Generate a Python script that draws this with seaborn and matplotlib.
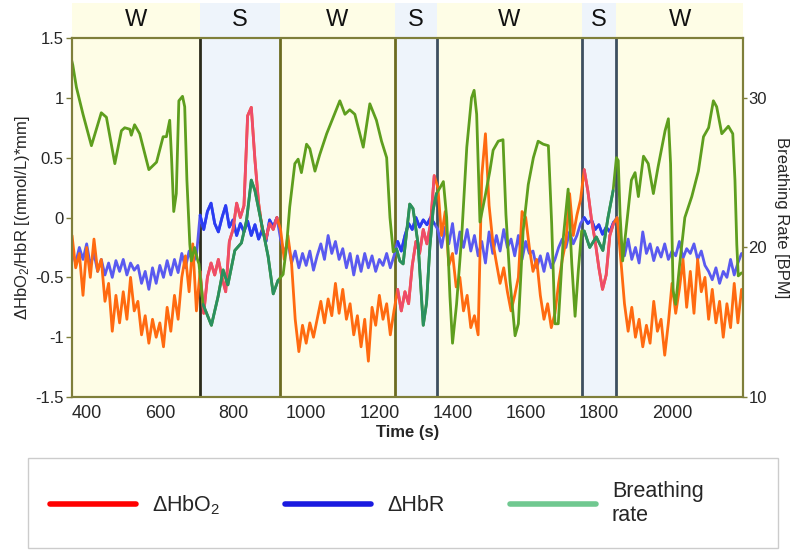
import numpy as np
import pandas as pd
import matplotlib.pyplot as plt
from matplotlib.lines import Line2D
from matplotlib.patches import Rectangle
import seaborn as sns

# wake / sleep stages (s)
stage_edges = [360, 709, 928, 1242, 1357, 1754, 1847, 2194]
stage_names = ["W", "S", "W", "S", "W", "S", "W"]

# haemoglobin signals, one value every 10 s from 360 s
hb_time = np.arange(360, 2191, 10)
hbo2 = [
    -0.15, -0.42, -0.30, -0.65, -0.25, -0.50, -0.18, -0.45, -0.35, -0.70,
    -0.55, -0.95, -0.65, -0.88, -0.62, -0.85, -0.50, -0.78, -0.70, -0.98,
    -0.82, -1.05, -0.85, -1.00, -0.88, -1.08, -0.75, -0.95, -0.65, -0.85,
    -0.50, -0.32, -0.62, -0.22, -0.78, -0.45, -0.80, -0.50, -0.38, -0.48,
    -0.35, -0.50, -0.62, -0.20, -0.10, 0.12, 0.00, 0.10, 0.85, 0.92,
    0.48, 0.12, -0.10, -0.18, -0.05, -0.10, 0.00, -0.10, -0.35, -0.15,
    -0.38, -0.85, -1.12, -0.90, -1.05, -0.88, -1.00, -0.85, -0.70, -0.88,
    -0.68, -0.82, -0.55, -0.80, -0.60, -0.85, -0.72, -0.98, -0.82, -1.08,
    -0.85, -1.20, -0.75, -0.90, -0.65, -0.85, -0.72, -0.98, -0.78, -0.60,
    -0.78, -0.62, -0.72, -0.40, -0.20, -0.30, -0.10, -0.22, -0.05, 0.35,
    0.25, -0.15, 0.05, -0.40, -0.30, -0.58, -0.50, -0.78, -0.65, -0.92,
    -0.82, -0.98, 0.35, 0.70, 0.10, -0.20, -0.38, -0.55, -0.42, -0.62,
    -0.78, -0.65, -0.50, 0.05, 0.00, -0.25, -0.45, -0.35, -0.65, -0.85,
    -0.72, -0.92, -0.80, -0.55, -0.35, -0.20, 0.20, -0.15, 0.02, 0.15,
    0.40, 0.22, -0.02, -0.20, -0.42, -0.60, -0.48, -0.15, -0.05, 0.00,
    -0.35, -0.72, -0.95, -0.75, -1.00, -0.85, -1.08, -0.90, -1.05, -0.70,
    -0.95, -0.85, -1.15, -0.88, -0.55, -0.80, -0.60, -0.35, -0.75, -0.45,
    -0.80, -0.35, -0.62, -0.50, -0.85, -0.60, -0.88, -0.70, -1.00, -0.72,
    -0.92, -0.55, -0.88, -0.60,
]
hbr = [
    -0.28, -0.38, -0.25, -0.35, -0.22, -0.40, -0.30, -0.45, -0.35, -0.48,
    -0.38, -0.50, -0.36, -0.45, -0.35, -0.48, -0.38, -0.44, -0.40, -0.55,
    -0.45, -0.60, -0.42, -0.55, -0.40, -0.50, -0.36, -0.48, -0.35, -0.46,
    -0.30, -0.42, -0.28, -0.38, -0.32, 0.02, -0.10, 0.05, 0.12, -0.05,
    -0.12, 0.00, 0.10, -0.08, -0.02, -0.15, -0.05, -0.12, -0.03, -0.15,
    -0.06, -0.18, -0.10, -0.20, -0.02, -0.08, 0.00, -0.18, -0.30, -0.20,
    -0.38, -0.28, -0.42, -0.30, -0.40, -0.28, -0.44, -0.32, -0.22, -0.35,
    -0.15, -0.30, -0.20, -0.35, -0.26, -0.42, -0.30, -0.48, -0.32, -0.45,
    -0.30, -0.42, -0.32, -0.45, -0.35, -0.40, -0.30, -0.42, -0.32, -0.20,
    -0.28, -0.15, -0.05, -0.10, 0.00, -0.08, -0.02, -0.06, 0.00, -0.05,
    -0.10, -0.25, -0.08, -0.22, -0.05, -0.30, -0.12, -0.25, -0.10, -0.28,
    -0.15, -0.32, -0.20, -0.38, -0.12, -0.30, -0.15, -0.28, -0.10, -0.25,
    -0.18, -0.32, -0.15, -0.35, -0.20, -0.30, -0.28, -0.42, -0.32, -0.45,
    -0.30, -0.42, -0.35, -0.25, -0.18, -0.25, -0.12, -0.22, -0.15, -0.05,
    0.00, -0.05, -0.02, -0.10, -0.06, -0.14, -0.08, -0.12, -0.04, 0.00,
    -0.22, -0.32, -0.18, -0.35, -0.25, -0.38, -0.12, -0.30, -0.22, -0.36,
    -0.25, -0.33, -0.22, -0.35, -0.28, -0.32, -0.20, -0.34, -0.26, -0.30,
    -0.22, -0.35, -0.28, -0.40, -0.45, -0.52, -0.42, -0.55, -0.45, -0.50,
    -0.35, -0.48, -0.38, -0.30,
]

# breathing rate (BPM)
br_time = [
    358, 362, 372, 390, 413, 440, 454, 477, 495, 504, 518, 522, 531, 545, 570,
    591, 609, 618, 627, 632, 638, 645, 652, 662, 668, 674, 682, 686, 695, 704,
    707, 718, 741, 759, 773, 786, 805, 823, 837, 850, 860, 878, 896, 910, 923,
    937, 946, 955, 969, 978, 987, 1001, 1010, 1024, 1037, 1056, 1074, 1092,
    1106, 1119, 1133, 1156, 1174, 1192, 1206, 1220, 1229, 1238, 1247,
    1256, 1265, 1283, 1292, 1306, 1320, 1329, 1338, 1347, 1356,
    1366, 1375, 1384, 1393, 1400, 1411, 1425, 1439, 1452, 1459, 1466, 1475,
    1489, 1502, 1511, 1525, 1538, 1546, 1557, 1571, 1580, 1593, 1607, 1621,
    1634, 1648, 1662, 1671, 1680, 1689, 1703, 1716, 1726, 1735, 1744, 1753,
    1760, 1775, 1793, 1811, 1825, 1839, 1848,
    1853, 1858, 1865, 1876, 1889, 1899, 1908, 1922, 1935, 1949, 1962, 1981,
    1990, 1996, 2003, 2010, 2021, 2035, 2054, 2072, 2086, 2100, 2113, 2122,
    2136, 2154, 2166, 2172, 2177, 2181, 2190,
]
br_rate = [
    32.6, 32.2, 30.7, 28.9, 26.8, 29.0, 28.7, 25.6, 27.8, 28.0, 27.9, 27.5, 28.2, 27.6, 25.2,
    25.7, 27.4, 27.4, 28.5, 26.0, 22.4, 23.6, 29.8, 30.1, 29.4, 24.5, 20.2, 19.1, 20.0, 19.1,
    18.9, 16.2, 14.8, 16.7, 18.5, 17.5, 19.8, 20.3, 21.8, 24.5, 23.8, 21.6, 19.4, 16.9, 17.8,
    18.2, 20.0, 22.7, 25.6, 25.9, 25.0, 26.9, 26.6, 25.1, 26.2, 27.6, 28.7, 29.8,
    28.9, 29.2, 28.9, 26.7, 29.6, 28.5, 27.1, 26.0, 22.0, 19.7, 19.9,
    19.1, 18.9, 22.9, 22.6, 20.2, 14.8, 16.3, 20.0, 22.5, 23.6,
    24.0, 24.4, 22.0, 16.7, 13.6, 16.2, 20.7, 26.7, 30.0, 30.5, 28.9, 21.7,
    23.4, 25.1, 26.5, 27.1, 27.2, 22.2, 17.8, 14.1, 14.9, 21.1, 24.2, 26.0,
    27.1, 26.9, 26.8, 21.6, 14.9, 14.9, 20.7, 23.9, 18.9, 15.4, 18.5, 21.1,
    21.1, 20.0, 20.7, 19.8, 22.0, 23.8, 26.0,
    25.8, 22.2, 19.1, 21.6, 24.5, 25.0, 23.4, 26.1, 25.6, 23.6, 25.4, 27.8,
    28.6, 25.6, 17.1, 16.2, 18.9, 22.0, 23.4, 25.1, 27.4, 28.0, 29.8, 29.4,
    27.6, 28.1, 27.6, 24.5, 20.2, 18.1, 18.3,
]

W_BG, S_BG = "#FEFDE6", "#EEF4FB"
edge_colors = ["#2A2A1A", "#6B6B20", "#6B6B20", "#3D4F5F", "#3D4F5F", "#3D4F5F"]
spine_col = "#7F7F3A"

sns.set_style("white")
plt.rcParams["font.family"] = ["Liberation Sans", "DejaVu Sans"]
plt.rcParams["mathtext.fontset"] = "custom"
plt.rcParams["mathtext.rm"] = "Liberation Sans"
plt.rcParams["mathtext.it"] = "Liberation Sans:italic"
plt.rcParams["axes.unicode_minus"] = False

fig = plt.figure(figsize=(7.95, 5.5), dpi=100)
ax = fig.add_axes([0.0906, 0.278, 0.844, 0.653])
ax.set_facecolor("none")

# stage shading, extended above the axes for the W/S labels
for a, b, name in zip(stage_edges[:-1], stage_edges[1:], stage_names):
    span = ax.axvspan(a, b, ymin=0, ymax=1.0975, color=W_BG if name == "W" else S_BG,
                      lw=0, zorder=0)
    span.set_clip_on(False)
    ax.text((a + b) / 2, 1.05, name, transform=ax.get_xaxis_transform(),
            ha="center", va="center", fontsize=17, color="#111111")
for edge, col in zip(stage_edges[1:-1], edge_colors):
    ax.axvline(edge, color=col, lw=2, zorder=1)

hb = pd.DataFrame({"t": hb_time, "hbo2": hbo2, "hbr": hbr})
sleep = [(a, b) for a, b, n in zip(stage_edges[:-1], stage_edges[1:], stage_names) if n == "S"]

lw_hb = 2.0
sns.lineplot(data=hb, x="t", y="hbr", ax=ax, color="#5A5AF0", lw=lw_hb, estimator=None, zorder=2)
for a, b in sleep:
    sub = hb[(hb.t >= a) & (hb.t <= b)]
    sns.lineplot(data=sub, x="t", y="hbr", ax=ax, color="#2A3CF2", lw=lw_hb, estimator=None, zorder=2)

sns.lineplot(data=hb, x="t", y="hbo2", ax=ax, color="#FF6A10", lw=lw_hb, estimator=None, zorder=3)
for a, b in sleep:
    sub = hb[(hb.t >= a) & (hb.t <= b)]
    sns.lineplot(data=sub, x="t", y="hbo2", ax=ax, color="#EE4C6A", lw=lw_hb, estimator=None, zorder=3)

ax.set_xlim(stage_edges[0], stage_edges[-1])
ax.set_ylim(-1.5, 1.5)
ax.set_xticks([400, 600, 800, 1000, 1200, 1400, 1600, 1800, 2000])
ax.set_xticklabels(["400", "600", "800", "1000", "1200", "1400", "1600", "1800", "2000"], fontsize=13)
ax.set_yticks([-1.5, -1, -0.5, 0, 0.5, 1, 1.5])
ax.set_yticklabels(["-1.5", "-1", "-0.5", "0", "0.5", "1", "1.5"], fontsize=12)
ax.set_xlabel("Time (s)", fontsize=12, fontweight="bold", labelpad=2)
ax.set_ylabel("ΔHbO$_2$/HbR [(mmol/L)*mm]", fontsize=12, labelpad=2)
ax.tick_params(direction="out", length=4, width=1, color=spine_col, pad=2)

# breathing rate on the right axis
ax2 = ax.twinx()
br = pd.DataFrame({"t": br_time, "rate": br_rate})
sns.lineplot(data=br, x="t", y="rate", ax=ax2, color="#5E9E1E", lw=2.0, estimator=None)
for a, b in sleep:
    sub = br[(br.t >= a) & (br.t <= b)]
    sns.lineplot(data=sub, x="t", y="rate", ax=ax2, color="#2A9060", lw=2.0, estimator=None)
ax2.set_ylim(10, 34)
ax2.set_yticks([10, 20, 30])
ax2.set_yticklabels(["10", "20", "30"], fontsize=12)
ax2.set_ylabel("Breathing Rate [BPM]", fontsize=12, rotation=270, labelpad=16)
ax2.set_xlabel("")
ax2.tick_params(direction="out", length=3, width=1, color=spine_col, pad=1)
ax.set_xlim(stage_edges[0], stage_edges[-1])

for a_ in (ax, ax2):
    for s in a_.spines.values():
        s.set_color(spine_col)
        s.set_linewidth(1.5)

# legend box below the plot
fig.patches.append(Rectangle((0.0352, 0.0036), 0.943, 0.1636, transform=fig.transFigure,
                             facecolor="white", edgecolor="#CCCCCC", lw=1))
handles = [Line2D([], [], color="#FF0000", lw=4),
           Line2D([], [], color="#1A1AE0", lw=4),
           Line2D([], [], color="#70C890", lw=4)]
labels = ["ΔHbO$_2$", "ΔHbR", "Breathing\nrate"]
fig.legend(handles, labels, loc="center left", bbox_to_anchor=(0.063, 0.085),
           ncol=3, fontsize=15.5, frameon=False, handlelength=4.0, handletextpad=0.75,
           columnspacing=3.0, borderpad=0, borderaxespad=0)

fig.savefig("out.png", dpi=100)
